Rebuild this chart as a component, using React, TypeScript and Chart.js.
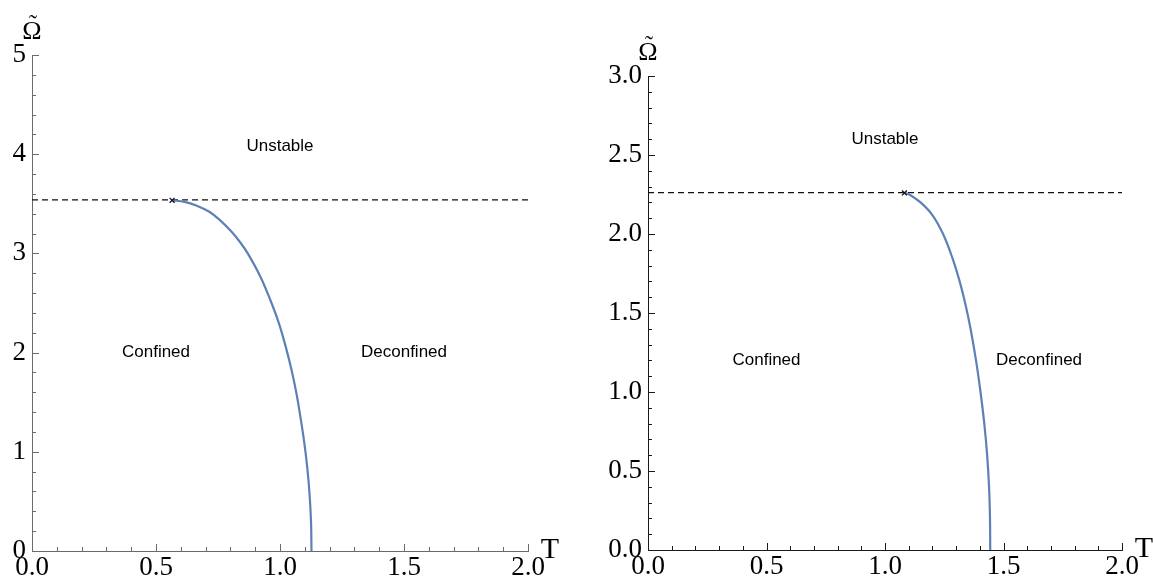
import React, { useEffect, useRef } from "react";
import { Chart, registerables } from "chart.js";

Chart.register(...registerables);

// ---------- Left panel data ----------
const leftCurveT = [0.565, 0.615, 0.665, 0.715, 0.76, 0.804, 0.84, 0.87, 0.92, 0.961, 0.995, 1.023, 1.047, 1.067, 1.083, 1.098, 1.11, 1.119, 1.125, 1.127];
const leftCurveOmega = [3.535, 3.52, 3.48, 3.42, 3.33, 3.22, 3.11, 3.0, 2.77, 2.53, 2.3, 2.06, 1.82, 1.58, 1.34, 1.09, 0.84, 0.58, 0.3, 0];
const leftCritical = { T: 0.565, omega: 3.535 };
const leftLimitOmega = 3.54;
const leftYMax = 5;
const leftYStep = 1;
const leftYMinor = 0.2;
const leftRegionNames = ["Unstable", "Confined", "Deconfined"];
const leftRegionT = [1.0, 0.5, 1.5];
const leftRegionOmega = [4.08, 2.0, 2.0];

// ---------- Right panel data ----------
const rightCurveT = [1.085, 1.108, 1.15, 1.2, 1.245, 1.284, 1.315, 1.34, 1.361, 1.384, 1.403, 1.419, 1.431, 1.439, 1.443, 1.444];
const rightCurveOmega = [2.26, 2.245, 2.2, 2.12, 2.0, 1.85, 1.7, 1.55, 1.4, 1.2, 1.0, 0.8, 0.6, 0.4, 0.2, 0];
const rightCritical = { T: 1.082, omega: 2.26 };
const rightLimitOmega = 2.262;
const rightYMax = 3;
const rightYStep = 0.5;
const rightYMinor = 0.1;
const rightRegionNames = ["Unstable", "Confined", "Deconfined"];
const rightRegionT = [1.0, 0.5, 1.65];
const rightRegionOmega = [2.6, 1.2, 1.2];

// ---------- Shared axis ----------
const xMax = 2;
const xStep = 0.5;
const xMinor = 0.1;

type PanelCfg = {
  curveT: number[];
  curveOmega: number[];
  critical: { T: number; omega: number };
  limitOmega: number;
  yMax: number;
  yStep: number;
  yMinor: number;
  yDecimals: number;
  regionNames: string[];
  regionT: number[];
  regionOmega: number[];
  axisColor: string;
  padding: { left: number; right: number; top: number; bottom: number };
  yWidth: number;
  xHeight: number;
};

function buildTicks(max: number, step: number) {
  const out: number[] = [];
  const n = Math.round(max / step);
  for (let i = 0; i <= n; i++) out.push(+(i * step).toFixed(6));
  return out;
}

const SERIF = '"Liberation Serif", "Times New Roman", serif';

function makeDecor(cfg: PanelCfg) {
  return {
    id: "decor",
    afterDraw(chart: any) {
      const { ctx, chartArea } = chart;
      const xs = chart.scales.x;
      const ys = chart.scales.y;
      ctx.save();
      ctx.strokeStyle = cfg.axisColor;
      ctx.lineWidth = 1;
      ctx.beginPath();
      for (const v of buildTicks(xMax, xMinor)) {
        const major = Math.abs(v / xStep - Math.round(v / xStep)) < 1e-6;
        const px = Math.round(xs.getPixelForValue(v)) + 0.5;
        ctx.moveTo(px, chartArea.bottom);
        ctx.lineTo(px, chartArea.bottom - (major ? 7 : 4));
      }
      for (const v of buildTicks(cfg.yMax, cfg.yMinor)) {
        const major = Math.abs(v / cfg.yStep - Math.round(v / cfg.yStep)) < 1e-6;
        const py = Math.round(ys.getPixelForValue(v)) + 0.5;
        ctx.moveTo(chartArea.left, py);
        ctx.lineTo(chartArea.left + (major ? 7 : 4), py);
      }
      ctx.stroke();

      ctx.fillStyle = "#000";
      ctx.font = '17px "Liberation Sans", Arial, sans-serif';
      ctx.textAlign = "center";
      ctx.textBaseline = "middle";
      cfg.regionNames.forEach((name, i) => {
        ctx.fillText(name, xs.getPixelForValue(cfg.regionT[i]), ys.getPixelForValue(cfg.regionOmega[i]));
      });

      ctx.textBaseline = "alphabetic";
      ctx.font = `26px ${SERIF}`;
      ctx.fillText("Ω", chartArea.left, chartArea.top - 16);
      ctx.font = `24px ${SERIF}`;
      ctx.fillText("\u02DC", chartArea.left + 1, chartArea.top - 24);
      ctx.font = `30px ${SERIF}`;
      ctx.fillText("T", chartArea.right + 22, chartArea.bottom + 7);
      ctx.restore();
    },
  };
}

function Panel({ cfg, width, height, left }: { cfg: PanelCfg; width: number; height: number; left: number }) {
  const ref = useRef<HTMLCanvasElement | null>(null);
  useEffect(() => {
    if (!ref.current) return;
    const serif = { family: SERIF, size: 27 };
    const chart = new Chart(ref.current, {
      type: "line",
      data: {
        datasets: [
          {
            label: "critical",
            data: [{ x: cfg.critical.T, y: cfg.critical.omega }],
            showLine: false,
            pointStyle: "crossRot",
            pointRadius: 3.5,
            pointBorderColor: "#111",
            pointBackgroundColor: "#111",
            pointBorderWidth: 1.3,
          },
          {
            label: "transition",
            data: cfg.curveT.map((t, i) => ({ x: t, y: cfg.curveOmega[i] })),
            borderColor: "#5e81b5",
            borderWidth: 2.2,
            pointRadius: 0,
            tension: 0.4,
            fill: false,
          },
          {
            label: "limit",
            data: [
              { x: 0, y: cfg.limitOmega },
              { x: xMax, y: cfg.limitOmega },
            ],
            borderColor: "#111",
            borderWidth: 1.3,
            borderDash: [6, 4],
            pointRadius: 0,
            fill: false,
          },
        ],
      },
      options: {
        animation: false,
        responsive: false,
        events: [],
        layout: { padding: cfg.padding },
        plugins: { legend: { display: false }, tooltip: { enabled: false } },
        scales: {
          x: {
            type: "linear",
            min: 0,
            max: xMax,
            grid: { display: false, drawTicks: false, tickLength: 0 },
            border: { display: true, color: cfg.axisColor, width: 1 },
            ticks: {
              stepSize: xStep,
              autoSkip: false,
              maxRotation: 0,
              padding: 1,
              color: "#000",
              font: serif,
              callback: (v: any) => Number(v).toFixed(1),
            },
            afterFit: (s: any) => {
              s.height = cfg.xHeight;
            },
          },
          y: {
            type: "linear",
            min: 0,
            max: cfg.yMax,
            grid: { display: false, drawTicks: false, tickLength: 0 },
            border: { display: true, color: cfg.axisColor, width: 1 },
            ticks: {
              stepSize: cfg.yStep,
              autoSkip: false,
              padding: 6,
              color: "#000",
              font: serif,
              callback: (v: any) => Number(v).toFixed(cfg.yDecimals),
            },
            afterFit: (s: any) => {
              s.width = cfg.yWidth;
            },
          },
        },
      },
      plugins: [makeDecor(cfg)],
    } as any);
    return () => chart.destroy();
  }, [cfg]);
  return (
    <canvas
      ref={ref}
      width={width}
      height={height}
      style={{ position: "absolute", left, top: 0, width, height }}
    />
  );
}

const leftCfg: PanelCfg = {
  curveT: leftCurveT,
  curveOmega: leftCurveOmega,
  critical: leftCritical,
  limitOmega: leftLimitOmega,
  yMax: leftYMax,
  yStep: leftYStep,
  yMinor: leftYMinor,
  yDecimals: 0,
  regionNames: leftRegionNames,
  regionT: leftRegionT,
  regionOmega: leftRegionOmega,
  axisColor: "#6a6a6a",
  padding: { left: 0, right: 48, top: 55, bottom: 0 },
  yWidth: 32,
  xHeight: 28,
};

const rightCfg: PanelCfg = {
  curveT: rightCurveT,
  curveOmega: rightCurveOmega,
  critical: rightCritical,
  limitOmega: rightLimitOmega,
  yMax: rightYMax,
  yStep: rightYStep,
  yMinor: rightYMinor,
  yDecimals: 1,
  regionNames: rightRegionNames,
  regionT: rightRegionT,
  regionOmega: rightRegionOmega,
  axisColor: "#1a1a1a",
  padding: { left: 24, right: 31, top: 76, bottom: 0 },
  yWidth: 48,
  xHeight: 29,
};

export default function App() {
  return (
    <div style={{ position: "absolute", left: 0, top: 0, width: 1153, height: 579, background: "#fff", overflow: "hidden" }}>
      <Panel cfg={leftCfg} width={576} height={579} left={0} />
      <Panel cfg={rightCfg} width={577} height={579} left={576} />
    </div>
  );
}
